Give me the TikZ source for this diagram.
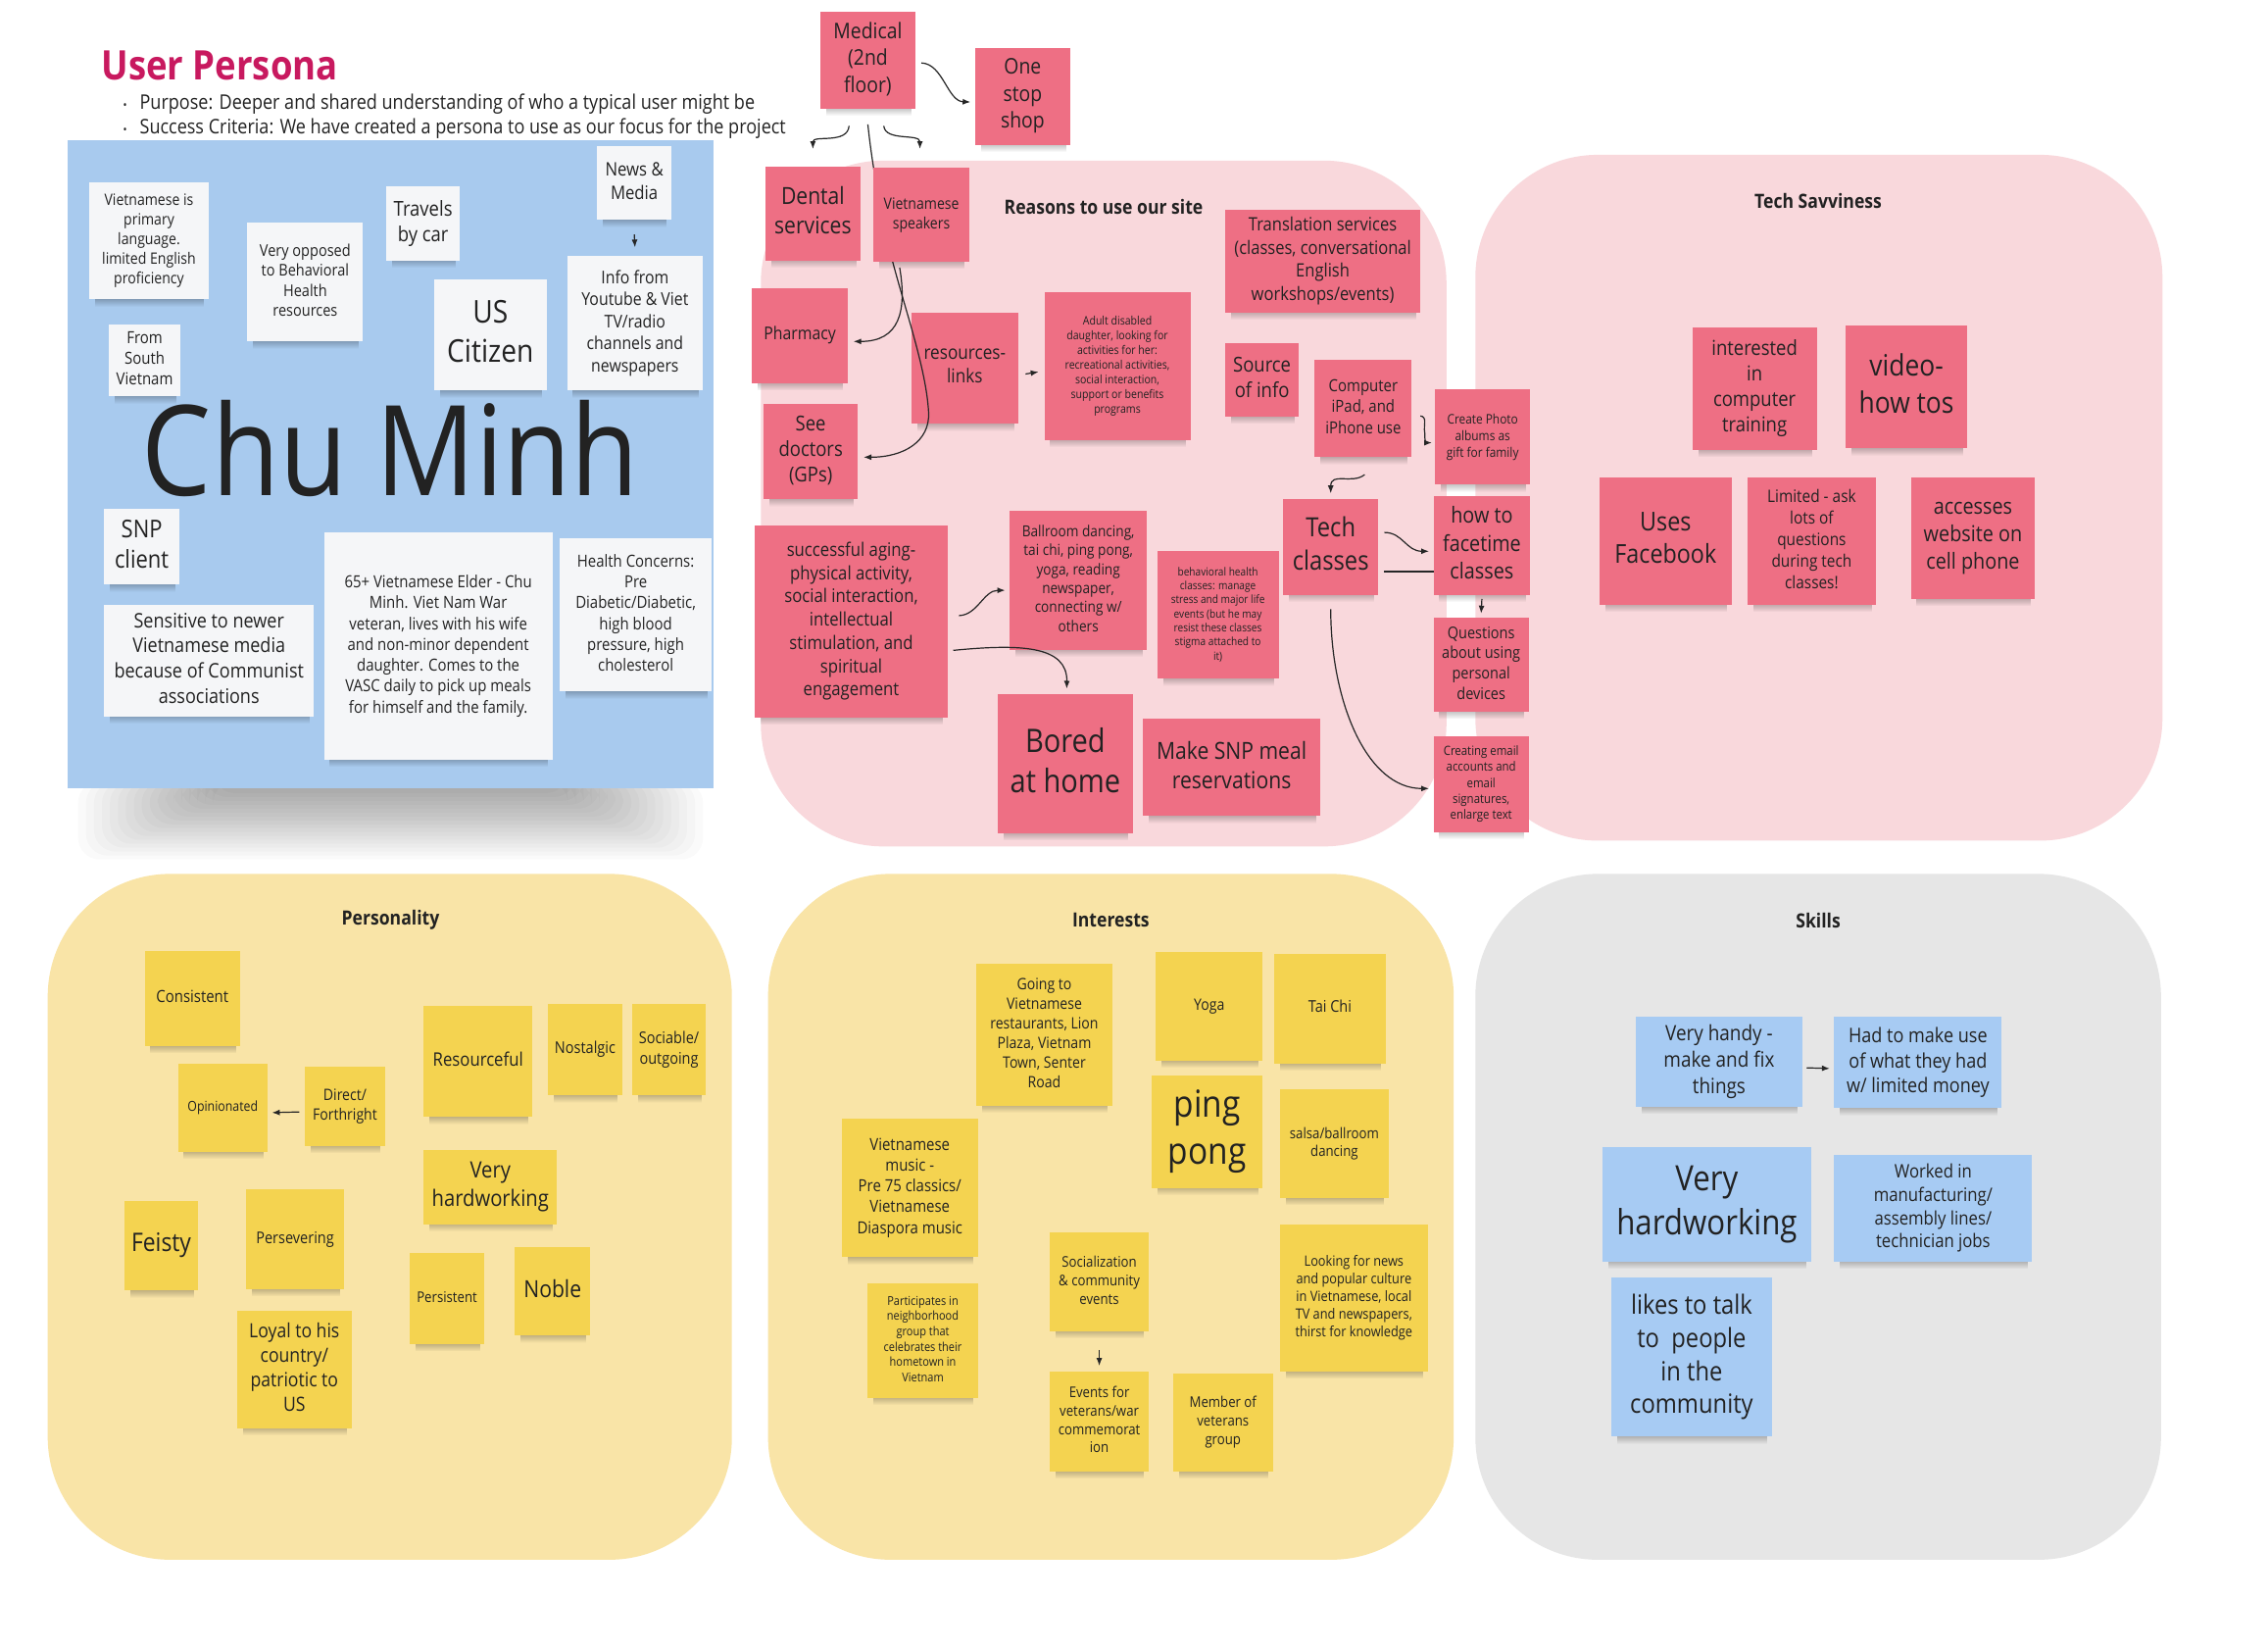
\documentclass[tikz,border=0pt]{standalone}
\usepackage{fontspec}
\setmainfont{Open Sans}[FakeStretch=0.88]
\usetikzlibrary{calc,arrows.meta,fadings}
\definecolor{pinkr}{HTML}{F9D8DC}
\definecolor{yellr}{HTML}{F9E4A7}
\definecolor{grayr}{HTML}{E6E6E6}
\definecolor{pinkn}{HTML}{EE6F84}
\definecolor{yelln}{HTML}{F4D350}
\definecolor{bluen}{HTML}{A7CBF3}
\definecolor{bluecard}{HTML}{A8CAEE}
\definecolor{whiten}{HTML}{F5F6F8}
\definecolor{txt}{HTML}{222222}
\definecolor{titlec}{HTML}{C8195F}
\newcommand\fs[1]{\fontsize{#1}{\fpeval{1.25*#1}}\selectfont}
% style, name, x1, y1, x2, y2, font size, text
\newcommand\stk[8]{%
  \fill[black,opacity=.3,path fading=south] (#3+4,#6-2) rectangle (#5-3,#6+5);
  \node[#1, minimum width={(#5-#3)*1.4758pt}, minimum height={(#6-#4)*1.4758pt}] (#2) at ({(#3+#5)/2},{(#4+#6)/2}) {};
  \node[base, font=\fs{#7}] (#2t) at (#2.center) {#8\rule[-.25em]{0pt}{.25em}};
}
\tikzset{
  base/.style={inner sep=0pt, outer sep=0pt, align=center, text=txt},
  pn/.style={base, fill=pinkn},
  yn/.style={base, fill=yelln},
  bn/.style={base, fill=bluen},
  wn/.style={base, fill=whiten},
  conn/.style={line width=1.2pt, draw=black!85, -{Latex[length=8pt,width=6pt]}},
  plainln/.style={line width=1.2pt, draw=black!85},
  region/.style={rounded corners=125pt},
  rtitle/.style={font=\bfseries\fs{20}, text=txt, inner sep=0pt},
}
\begin{document}
\begin{tikzpicture}[x=1.4758pt,y=-1.4758pt]
\fill[white] (0,0) rectangle (1568,1141);
\useasboundingbox (0,0) rectangle (1568,1141);

% regions
\fill[pinkr, region] (526,111) rectangle (1000,585);
\fill[pinkr, region] (1020,107) rectangle (1495,581);
\fill[yellr, region] (33,604) rectangle (506,1078);
\fill[yellr, region] (531,604) rectangle (1005,1078);
\fill[grayr, region] (1020,604) rectangle (1494,1078);

\node[rtitle] (treas) at (763,143) {Reasons to use our site};
\node[rtitle] (ttech) at (1257,139) {Tech Savviness};
\node[rtitle] (tpers) at (270,636) {Personality};
\node[rtitle] (tint) at (768,636) {Interests};
\node[rtitle] (tskill) at (1257,636) {Skills};

% header
\node[anchor=west, inner sep=0pt, text=titlec, font=\bfseries\fs{41.5}] (title) at (70,45) {User Persona};
\node[anchor=west, inner sep=0pt, text=txt, font=\fs{20.5}] (bul1) at (85,72) {{\fs{12}•}\hspace{13pt}Purpose: Deeper and shared understanding of who a typical user might be};
\node[anchor=west, inner sep=0pt, text=txt, font=\fs{20.5}] (bul2) at (85,89) {{\fs{12}•}\hspace{13pt}Success Criteria: We have created a persona to use as our focus for the project};

% blue card with soft shadow
\foreach \i in {0,...,17}{
  \fill[black,opacity=.02,rounded corners=22pt] (54+\i*5.5,540) rectangle (486-\i*5.5,594-\i*2.7);
}
\fill[bluecard] (47,97) rectangle (493,545);
\node[inner sep=0pt, text=txt, font=\fs{128}] (chu) at (270,310) {Chu Minh};

\stk{wn}{viet}{62}{126}{144}{207}{16}{Vietnamese is\\primary\\language.\\limited English\\proficiency}
\stk{wn}{opp}{171}{154}{251}{236}{16.5}{Very opposed\\to Behavioral\\Health\\resources}
\stk{wn}{trav}{267}{129}{318}{180}{21}{Travels\\by car}
\stk{wn}{news}{413}{101}{464}{152}{19}{News \&\\Media}
\stk{wn}{info}{392}{177}{486}{270}{18}{Info from\\Youtube \& Viet\\TV/radio\\channels and\\newspapers}
\stk{wn}{usc}{300}{193}{378}{270}{32}{US\\Citizen}
\stk{wn}{south}{75}{224}{125}{274}{17}{From\\South\\Vietnam}
\stk{wn}{snp}{72}{352}{124}{404}{25}{SNP\\client}
\stk{wn}{sens}{72}{418}{217}{495}{20.5}{Sensitive to newer\\Vietnamese media\\because of Communist\\associations}
\stk{wn}{elder}{224}{368}{382}{525}{17}{65+ Vietnamese Elder - Chu\\Minh. Viet Nam War\\veteran, lives with his wife\\and non-minor dependent\\daughter. Comes to the\\VASC daily to pick up meals\\for himself and the family.}
\stk{wn}{health}{387}{372}{492}{478}{17}{Health Concerns:\\Pre\\Diabetic/Diabetic,\\high blood\\pressure, high\\cholesterol}

% pink notes
\stk{pn}{med}{567}{8}{633}{75}{22}{Medical\\(2nd\\floor)}
\stk{pn}{one}{674}{33}{740}{100}{22}{One\\stop\\shop}
\stk{pn}{dent}{529}{115}{595}{180}{24}{Dental\\services}
\stk{pn}{phar}{520}{199}{586}{265}{18}{Pharmacy}
\stk{pn}{res}{630}{216}{704}{293}{19.5}{resources-\\links}
\stk{pn}{adult}{722}{202}{823}{304}{12}{Adult disabled\\daughter, looking for\\activities for her:\\recreational activities,\\social interaction,\\support or benefits\\programs}
\stk{pn}{doc}{528}{279}{593}{345}{21}{See\\doctors\\(GPs)}
\stk{pn}{trans}{847}{145}{982}{216}{18.8}{Translation services\\(classes, conversational\\English\\workshops/events)}
\stk{pn}{src}{847}{237}{898}{288}{21}{Source\\of info}
\stk{pn}{comp}{909}{249}{976}{316}{17}{Computer\\iPad, and\\iPhone use}
\stk{pn}{photo}{992}{269}{1058}{335}{13.5}{Create Photo\\albums as\\gift for family}
\stk{pn}{tech}{887}{345}{953}{411}{27}{Tech\\classes}
\stk{pn}{face}{991}{343}{1058}{411}{22.5}{how to\\facetime\\classes}
\stk{pn}{ques}{991}{427}{1057}{492}{16.5}{Questions\\about using\\personal\\devices}
\stk{pn}{email}{991}{509}{1057}{575}{13}{Creating email\\accounts and\\email\\signatures,\\enlarge text}
\stk{pn}{succ}{522}{363}{655}{496}{19}{successful aging-\\physical activity,\\social interaction,\\intellectual\\stimulation, and\\spiritual\\engagement}
\stk{pn}{ball}{698}{353}{793}{449}{15.5}{Ballroom dancing,\\tai chi, ping pong,\\yoga, reading\\newspaper,\\connecting w/\\others}
\stk{pn}{beh}{800}{381}{884}{469}{11.5}{behavioral health\\classes: manage\\stress and major life\\events (but he may\\resist these classes\\stigma attached to\\it)}
\stk{pn}{bored}{690}{480}{783}{576}{33}{Bored\\at home}
\stk{pn}{snpm}{790}{497}{913}{564}{24}{Make SNP meal\\reservations}

% tech savviness
\stk{pn}{intc}{1170}{226}{1256}{311}{21}{interested\\in\\computer\\training}
\stk{pn}{vid}{1276}{225}{1360}{310}{30}{video-\\how tos}
\stk{pn}{fb}{1106}{330}{1197}{418}{26.5}{Uses\\Facebook}
\stk{pn}{lim}{1208}{330}{1297}{418}{17.5}{Limited - ask\\lots of\\questions\\during tech\\classes!}
\stk{pn}{acc}{1321}{330}{1407}{414}{22.5}{accesses\\website on\\cell phone}

% personality
\stk{yn}{cons}{100}{657}{166}{723}{17}{Consistent}
\stk{yn}{opi}{123}{735}{185}{796}{14}{Opinionated}
\stk{yn}{dir}{211}{737}{266}{792}{16}{Direct/\\Forthright}
\stk{yn}{resf}{293}{695}{368}{772}{19}{Resourceful}
\stk{yn}{nost}{379}{694}{430}{757}{16.5}{Nostalgic}
\stk{yn}{soci}{437}{694}{488}{757}{16.5}{Sociable/\\outgoing}
\stk{yn}{vhw}{293}{795}{385}{846}{23}{Very\\hardworking}
\stk{yn}{feis}{86}{830}{137}{892}{26}{Feisty}
\stk{yn}{pers}{170}{822}{238}{891}{16.5}{Persevering}
\stk{yn}{persi}{283}{866}{335}{929}{15}{Persistent}
\stk{yn}{noble}{356}{862}{408}{923}{24}{Noble}
\stk{yn}{loyal}{164}{906}{243}{987}{20}{Loyal to his\\country/\\patriotic to\\US}

% interests
\stk{yn}{going}{675}{666}{769}{764}{16}{Going to\\Vietnamese\\restaurants, Lion\\Plaza, Vietnam\\Town, Senter\\Road}
\stk{yn}{yoga}{799}{658}{873}{733}{16}{Yoga}
\stk{yn}{taichi}{881}{659}{958}{735}{16.5}{Tai Chi}
\stk{yn}{ping}{796}{743}{873}{821}{38}{ping\\pong}
\stk{yn}{salsa}{885}{753}{960}{828}{15}{salsa/ballroom\\dancing}
\stk{yn}{vmus}{582}{773}{676}{869}{17}{Vietnamese\\music -\\Pre 75 classics/\\Vietnamese\\Diaspora music}
\stk{yn}{part}{600}{887}{676}{966}{12.5}{Participates in\\neighborhood\\group that\\celebrates their\\hometown in\\Vietnam}
\stk{yn}{soc}{726}{852}{794}{920}{15}{Socialization\\\& community\\events}
\stk{yn}{evt}{726}{948}{794}{1017}{15}{Events for\\veterans/war\\commemorat\\ion}
\stk{yn}{memb}{811}{949}{880}{1017}{15}{Member of\\veterans\\group}
\stk{yn}{look}{885}{846}{987}{948}{14.5}{Looking for news\\and popular culture\\in Vietnamese, local\\TV and newspapers,\\thirst for knowledge}

% skills
\stk{bn}{handy}{1131}{703}{1246}{765}{21.5}{Very handy -\\make and fix\\things}
\stk{bn}{had}{1268}{703}{1384}{766}{20.5}{Had to make use\\of what they had\\w/ limited money}
\stk{bn}{svhw}{1108}{793}{1252}{872}{35.5}{Very\\hardworking}
\stk{bn}{work}{1268}{798}{1405}{872}{19}{Worked in\\manufacturing/\\assembly lines/\\technician jobs}
\stk{bn}{talk}{1114}{883}{1225}{993}{27}{likes to talk\\to\ \ people\\in the\\community}

% long connector under Vietnamese speakers
\draw[conn] ($(med.south)+(0,11)$) .. controls (602,105) and (605,125) .. (612,160)
   .. controls (622,205) and (640,250) .. (642,285) .. controls (643,305) and (625,316) .. ($(doc.east)+(4,4)$);
\stk{pn}{vsp}{604}{116}{670}{181}{16}{Vietnamese\\speakers}

% connectors
\draw[conn] ($(med.east)+(4,2)$) .. controls (652,44) and (655,70) .. ($(one.west)+(-3,4)$);
\draw[conn] ($(med.south)+(-13,12)$) .. controls (586,100) and (562,93) .. ($(dent.north)+(0,-12)$);
\draw[conn] ($(med.south)+(11,12)$) .. controls (612,98) and (636,92) .. ($(vsp.north)+(-1,-13)$);
\draw[conn] ($(vsp.south)+(-15,4)$) .. controls (627,215) and (622,236) .. ($(phar.east)+(4,4)$);
\draw[conn] ($(res.east)+(5,4)$) -- ($(adult.west)+(-4,4)$);
\draw[conn] ($(comp.east)+(6,5)$) .. controls (987,288) and (984,294) .. (985,299) .. controls (985,306) and (986,306) .. ($(photo.west)+(-2,4)$);
\draw[conn] ($(comp.south)+(1,12)$) .. controls (935,335) and (920,326) .. ($(tech.north)+(0,-4)$);
\draw[conn] ($(tech.east)+(4,-10)$) .. controls (970,368) and (972,381) .. ($(face.west)+(-3,4)$);
\draw[plainln] ($(tech.east)+(4,17)$) -- ($(face.west)+(0,18)$);
\draw[conn] ($(face.south)+(0,3)$) -- ($(ques.north)+(0,-3)$);
\draw[conn] ($(tech.south)+(0,10)$) .. controls (920,485) and (945,545) .. ($(email.west)+(-3,3)$);
\draw[conn] ($(succ.east)+(8,-4)$) .. controls (676,425) and (680,408) .. ($(ball.west)+(-3,7)$);
\draw[conn] ($(succ.east)+(4,20)$) .. controls (705,445) and (738,446) .. ($(bored.north)+(1,-4)$);
\draw[conn] ($(news.south)+(0,10)$) -- ($(info.north)+(0,-6)$);
\draw[conn] ($(dir.west)+(-4,4)$) -- ($(opi.east)+(3,3.5)$);
\draw[conn] ($(soc.south)+(0,13)$) -- ($(evt.north)+(0,-4)$);
\draw[conn] ($(handy.east)+(3,4)$) -- ($(had.west)+(-3,4)$);
\end{tikzpicture}
\end{document}
